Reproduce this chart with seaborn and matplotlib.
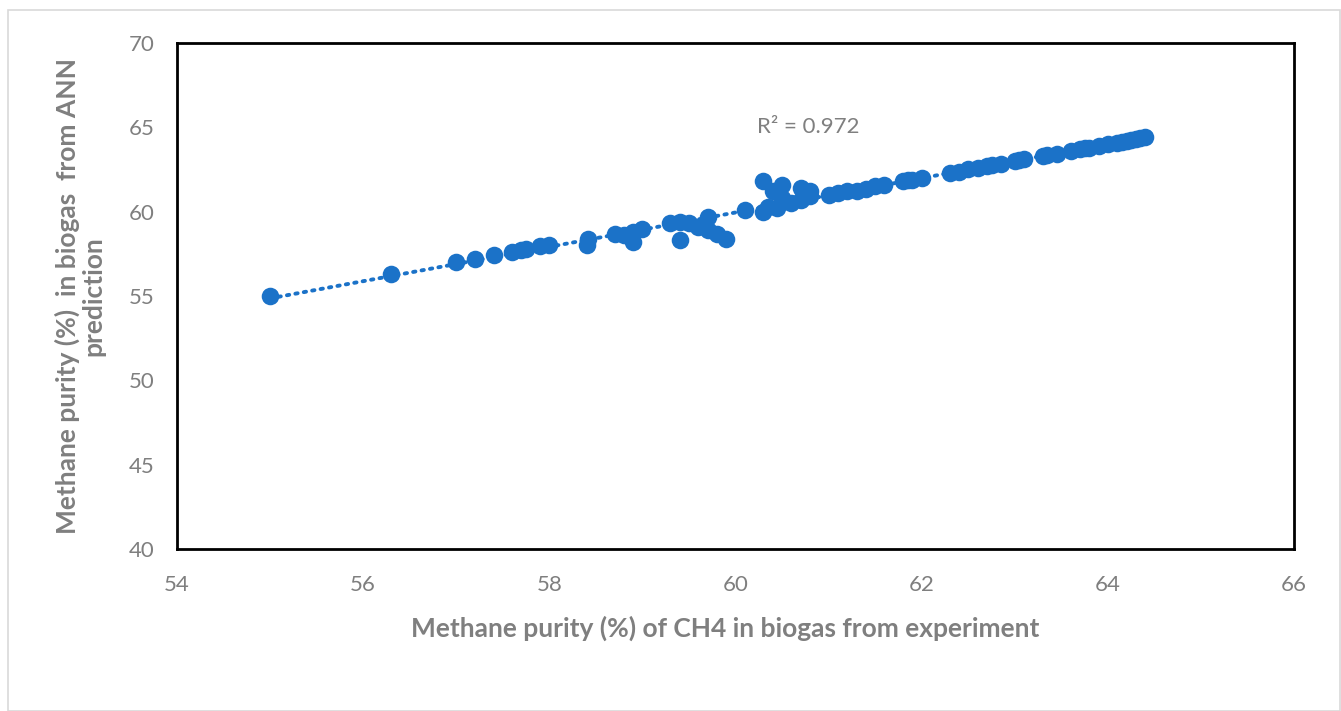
import numpy as np
import pandas as pd
import matplotlib
matplotlib.use("Agg")
import matplotlib.pyplot as plt
import seaborn as sns
from matplotlib.patches import Rectangle

# Data
experiment = [55.0, 56.3, 57.0, 57.2, 57.4, 57.6, 57.7, 57.75, 57.9, 58.0,
              58.4, 58.42, 58.7, 58.8, 58.9, 58.9, 59.0, 59.3, 59.4, 59.4,
              59.5, 59.6, 59.7, 59.7, 59.8, 59.9, 60.1, 60.3, 60.3, 60.35,
              60.4, 60.45, 60.5, 60.5, 60.6, 60.7, 60.7, 60.8, 60.8, 61.0,
              61.1, 61.2, 61.3, 61.4, 61.5, 61.6, 61.8, 61.85, 61.9, 62.0,
              62.3, 62.4, 62.5, 62.6, 62.7, 62.75, 62.85, 63.0, 63.05, 63.1,
              63.3, 63.35, 63.45, 63.6, 63.7, 63.75, 63.8, 63.9, 64.0, 64.1,
              64.15, 64.2, 64.25, 64.3, 64.35, 64.4]
predicted = [55.0, 56.3, 57.0, 57.2, 57.4, 57.6, 57.7, 57.8, 57.95, 58.0,
             58.05, 58.4, 58.7, 58.6, 58.8, 58.2, 59.0, 59.3, 59.4, 58.3,
             59.3, 59.1, 59.7, 58.9, 58.7, 58.4, 60.1, 61.8, 60.0, 60.3,
             61.2, 60.2, 61.6, 60.8, 60.5, 61.4, 60.7, 60.9, 61.2, 61.0,
             61.1, 61.2, 61.25, 61.35, 61.5, 61.6, 61.8, 61.85, 61.9, 62.0,
             62.3, 62.35, 62.5, 62.6, 62.7, 62.75, 62.85, 63.0, 63.05, 63.1,
             63.3, 63.35, 63.4, 63.6, 63.7, 63.75, 63.8, 63.9, 64.0, 64.1,
             64.15, 64.2, 64.25, 64.3, 64.35, 64.4]
x_ticks = [54, 56, 58, 60, 62, 64, 66]
y_ticks = [40, 45, 50, 55, 60, 65, 70]
r2_label = "R² = 0.972"

df = pd.DataFrame({"exp": experiment, "pred": predicted})

sns.set_theme(style="white")
plt.rcParams['font.family'] = ['Lato', 'DejaVu Sans']

blue = '#1B72C8'
grey = '#7F7F7F'

fig = plt.figure(figsize=(13.41, 7.11), dpi=100)
ax = fig.add_axes([0.132, 0.228, 0.833, 0.7115])

sns.regplot(data=df, x="exp", y="pred", ax=ax, ci=None, truncate=True,
            scatter_kws=dict(s=160, color=blue, alpha=1, linewidths=0, zorder=3),
            line_kws=dict(color=blue, linestyle=(0, (0.6, 1.6)), linewidth=2.8,
                          dash_capstyle='round', zorder=2))

ax.set_xlim(54, 66)
ax.set_ylim(40, 70)
ax.set_xticks(x_ticks)
ax.set_yticks(y_ticks)
ax.tick_params(axis='x', length=0, pad=19, labelsize=16, labelcolor=grey)
ax.tick_params(axis='y', length=0, pad=16, labelsize=16, labelcolor=grey)
for s in ax.spines.values():
    s.set_color('black')
    s.set_linewidth(2)

ax.set_xlabel("Methane purity (%) of CH4 in biogas from experiment",
              fontsize=19, fontweight='bold', color=grey, labelpad=10)
ax.xaxis.set_label_coords(0.491, -0.132)
ax.set_ylabel("Methane purity (%)  in biogas  from ANN\nprediction",
              fontsize=19, fontweight='bold', color=grey, labelpad=17,
              linespacing=1.05)

ax.text(60.23, 65.0, r2_label, fontsize=16, color=grey, ha='left', va='center')

fig.patches.append(Rectangle((8 / 1341, 0.0), 1332 / 1341, 1 - 10 / 711,
                             transform=fig.transFigure, fill=False,
                             edgecolor='#D9D9D9', linewidth=1.2))

fig.savefig("out.png", dpi=100)
